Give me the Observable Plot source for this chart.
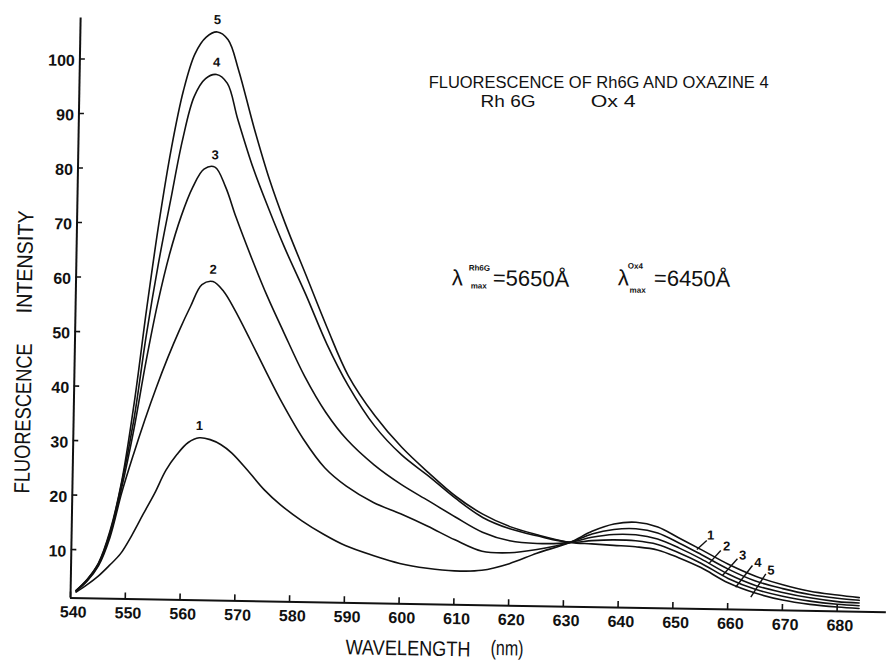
<!DOCTYPE html>
<html>
<head>
<meta charset="utf-8">
<script src="https://cdn.jsdelivr.net/npm/d3@7"></script>
<script src="https://cdn.jsdelivr.net/npm/@observablehq/plot@0.6"></script>
<style>
  html, body { margin: 0; padding: 0; background: #fff; }
  #chart svg { display: block; transform: rotate(1deg); transform-origin: 70px 597.5px; }
  #chart svg text { white-space: pre; }
</style>
</head>
<body>
<div id="chart"></div>
<script>
// ---- data ----
const wavelength = [541, 543, 545, 547, 549, 551, 553, 555, 557, 559, 561, 563, 565, 567, 569, 572, 575, 578, 582, 586, 590, 595, 600, 605, 610, 615, 620, 625, 631, 635, 639, 643, 647, 651, 655, 660, 665, 670, 675, 680, 684];
const curve1 = [2.2, 3.6, 5.2, 7.2, 9.4, 12.8, 16.7, 20.5, 24.8, 27.8, 30.0, 30.9, 30.6, 29.7, 28.2, 25.0, 21.6, 18.9, 16.0, 13.6, 11.6, 9.9, 8.5, 7.7, 7.3, 7.5, 8.8, 10.8, 12.9, 15.0, 16.4, 16.8, 16.0, 14.0, 12.0, 9.4, 7.3, 5.8, 4.7, 4.1, 3.7];
const curve2 = [2.4, 4.3, 7.1, 12.3, 20.5, 27.5, 34.0, 40.0, 45.5, 50.5, 55.0, 59.0, 59.6, 57.8, 54.6, 49.0, 43.2, 37.6, 31.0, 25.8, 22.5, 19.6, 17.6, 15.4, 13.0, 11.0, 10.8, 11.5, 12.9, 14.5, 15.4, 15.6, 14.9, 13.1, 11.1, 8.5, 6.4, 5.1, 4.1, 3.5, 3.2];
const curve3 = [2.4, 4.4, 7.3, 12.8, 21.5, 32.0, 44.5, 55.5, 64.5, 71.5, 76.8, 80.2, 80.6, 77.0, 71.5, 64.0, 57.0, 50.7, 42.6, 36.0, 31.0, 26.5, 23.0, 20.1, 17.2, 14.5, 13.0, 12.6, 12.9, 13.9, 14.5, 14.5, 13.8, 12.2, 10.3, 7.6, 5.6, 4.4, 3.5, 2.9, 2.7];
const curve4 = [2.5, 4.5, 7.5, 13.2, 22.4, 34.0, 49.5, 62.8, 74.3, 85.5, 93.5, 96.8, 97.6, 96.0, 89.5, 80.5, 73.0, 66.0, 57.5, 48.5, 41.0, 33.6, 28.4, 24.6, 20.6, 17.2, 15.2, 14.0, 12.9, 13.3, 13.5, 13.4, 12.8, 11.3, 9.5, 6.8, 4.9, 3.7, 2.9, 2.4, 2.2];
const curve5 = [2.5, 4.6, 7.6, 13.5, 22.8, 37.0, 54.5, 70.5, 84.0, 94.5, 101.3, 104.4, 105.4, 104.0, 98.5, 88.0, 78.5, 70.5, 61.0, 51.5, 42.8, 35.5, 29.8, 25.2, 21.0, 17.8, 15.6, 14.2, 12.9, 12.7, 12.5, 12.3, 11.8, 10.4, 8.7, 6.0, 4.2, 3.0, 2.3, 1.9, 1.7];
const curveNames = ["1", "2", "3", "4", "5"];
const xTicks = [540, 550, 560, 570, 580, 590, 600, 610, 620, 630, 640, 650, 660, 670, 680];
const yTicks = [10, 20, 30, 40, 50, 60, 70, 80, 90, 100];

// ---- annotation anchors (data units) ----
const tailLabelX = [656.7, 659.65, 662.6, 665.4, 667.8];
const tailLabelY = [14.62, 12.65, 11.05, 9.81, 8.39];
const leaderX1 = [655.98, 658.57, 661.64, 664.4, 666.87];
const leaderY1 = [13.69, 11.9, 10.43, 9.25, 7.77];
const leaderX2 = [654.2, 656.4, 658.96, 661.4, 664.2];
const leaderY2 = [12.0, 9.4, 7.31, 5.21, 3.42];

const series = [curve1, curve2, curve3, curve4, curve5];
const rows = curveNames.flatMap((name, i) => wavelength.map((w, j) => ({curve: name, w, v: series[i][j]})));
const peaks = curveNames.map((name, i) => {
  const s = series[i].slice(0, 20);
  const j = s.indexOf(d3.max(s));
  return {label: name, w: wavelength[j], v: series[i][j]};
});
const tails = curveNames.map((name, i) => ({label: name, x: tailLabelX[i], y: tailLabelY[i]}));
const leaders = curveNames.map((name, i) => ({x1: leaderX1[i], y1: leaderY1[i], x2: leaderX2[i], y2: leaderY2[i]}));

const SANS = '"Liberation Sans", Arial, sans-serif';
const INK = "#111";

// target widths for the hand-lettered (condensed) texts
const fitWidths = {
  "FLUORESCENCE OF Rh6G AND OXAZINE 4": 340,
  "Rh 6G": 55,
  "Ox 4": 45,
  "FLUORESCENCE": 150,
  "INTENSITY": 103,
  "WAVELENGTH": 125,
  "(nm)": 33
};
const levelTexts = new Set(["FLUORESCENCE OF Rh6G AND OXAZINE 4", "Rh 6G", "Ox 4"]);

const chart = Plot.plot({
  width: 886,
  height: 662,
  marginLeft: 70,
  marginRight: 0,
  marginTop: 17.5,
  marginBottom: 64.5,
  x: {domain: [540, 689]},
  y: {domain: [1.1, 107.5]},
  style: {background: "#fff", color: INK, fontFamily: SANS, overflow: "visible"},
  marks: [
    Plot.ruleX([540], {stroke: INK, strokeWidth: 2}),
    Plot.ruleY([1.1], {stroke: INK, strokeWidth: 2}),
    Plot.ruleY(yTicks, {y: d => d, x1: 540, x2: 541, stroke: INK, strokeWidth: 1.6}),
    Plot.ruleX(xTicks, {x: d => d, y1: 1.1, y2: 2.2, stroke: INK, strokeWidth: 1.6}),
    Plot.axisX(xTicks, {tickSize: 0, tickPadding: 8, dx: 3, fontSize: 16, fontWeight: "bold", fontFamily: SANS, label: null, tickFormat: d => String(d)}),
    Plot.axisY(yTicks, {tickSize: 0, tickPadding: 5, dy: 2, fontSize: 16, fontWeight: "bold", fontFamily: SANS, label: null, tickFormat: d => String(d)}),
    Plot.line(rows, {x: "w", y: "v", z: "curve", curve: "catmull-rom", stroke: INK, strokeWidth: 1.6}),
    Plot.text(peaks, {x: "w", y: "v", text: "label", dy: -12, fontSize: 13, fontWeight: "bold", fill: INK}),
    Plot.text(tails, {x: "x", y: "y", text: "label", fontSize: 13, fontWeight: "bold", fill: INK}),
    Plot.link(leaders, {x1: "x1", y1: "y1", x2: "x2", y2: "y2", stroke: INK, strokeWidth: 1.4}),
    // titles
    Plot.text(["FLUORESCENCE OF Rh6G AND OXAZINE 4"], {x: 603.76, y: 95.83, text: d => d, textAnchor: "start", lineAnchor: "bottom", fontSize: 16, fill: INK}),
    Plot.text(["Rh 6G"], {x: 613.3, y: 92.5, text: d => d, textAnchor: "start", lineAnchor: "bottom", fontSize: 16, fill: INK}),
    Plot.text(["Ox 4"], {x: 633.4, y: 92.86, text: d => d, textAnchor: "start", lineAnchor: "bottom", fontSize: 16, fill: INK}),
    // lambda max annotations
    Plot.text(["λ"], {x: 608.6, y: 59.7, text: d => d, textAnchor: "start", lineAnchor: "bottom", fontSize: 22, fill: INK}),
    Plot.text(["Rh6G"], {x: 611.65, y: 62.46, text: d => d, textAnchor: "start", lineAnchor: "bottom", fontSize: 8, fontWeight: "bold", fill: INK}),
    Plot.text(["max"], {x: 612.07, y: 59.17, text: d => d, textAnchor: "start", lineAnchor: "bottom", fontSize: 8, fontWeight: "bold", fill: INK}),
    Plot.text(["=5650Å"], {x: 616.08, y: 59.8, text: d => d, textAnchor: "start", lineAnchor: "bottom", fontSize: 22, fill: INK}),
    Plot.text(["λ"], {x: 638.9, y: 60.2, text: d => d, textAnchor: "start", lineAnchor: "bottom", fontSize: 22, fill: INK}),
    Plot.text(["Ox4"], {x: 640.7, y: 63.3, text: d => d, textAnchor: "start", lineAnchor: "bottom", fontSize: 8, fontWeight: "bold", fill: INK}),
    Plot.text(["max"], {x: 641.1, y: 58.9, text: d => d, textAnchor: "start", lineAnchor: "bottom", fontSize: 8, fontWeight: "bold", fill: INK}),
    Plot.text(["=6450Å"], {x: 645.5, y: 60.3, text: d => d, textAnchor: "start", lineAnchor: "bottom", fontSize: 22, fill: INK}),
    // axis titles
    Plot.text(["FLUORESCENCE"], {x: 530.85, y: 33.9, text: d => d, rotate: -90, lineAnchor: "middle", fontSize: 22, fill: INK}),
    Plot.text(["INTENSITY"], {x: 530.7, y: 62.6, text: d => d, rotate: -90, lineAnchor: "middle", fontSize: 22, fill: INK}),
    Plot.text(["WAVELENGTH"], {x: 601.78, y: -7.09, text: d => d, lineAnchor: "middle", fontSize: 21, fill: INK}),
    Plot.text(["(nm)"], {x: 619.86, y: -6.77, text: d => d, lineAnchor: "middle", fontSize: 21, fill: INK})
  ]
});

// condense the hand-lettered labels to their measured widths; keep the title lines level
d3.select(chart).selectAll("text").each(function() {
  const t = this.textContent;
  const w = fitWidths[t];
  if (w) {
    this.setAttribute("textLength", w);
    this.setAttribute("lengthAdjust", "spacingAndGlyphs");
  }
  if (levelTexts.has(t)) {
    const tr = this.getAttribute("transform") || "";
    this.setAttribute("transform", (tr + " rotate(-1)").trim());
  }
});

document.getElementById("chart").append(chart);
</script>
</body>
</html>
